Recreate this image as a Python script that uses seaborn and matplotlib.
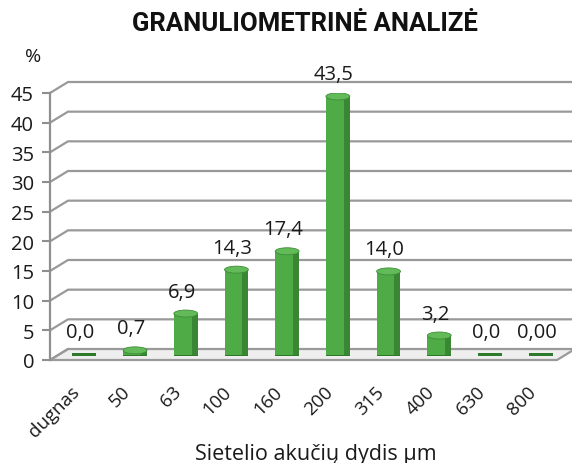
import matplotlib
matplotlib.use("Agg")
import matplotlib.pyplot as plt
import matplotlib.transforms as mtransforms
from matplotlib.patches import Polygon, Ellipse
from matplotlib.lines import Line2D
import seaborn as sns
import numpy as np

# ---- data ----
categories = ["dugnas", "50", "63", "100", "160", "200", "315", "400", "630", "800"]
values = [0.0, 0.7, 6.9, 14.3, 17.4, 43.5, 14.0, 3.2, 0.0, 0.0]
value_labels = ["0,0", "0,7", "6,9", "14,3", "17,4", "43,5", "14,0", "3,2", "0,0", "0,00"]
yticks = [0, 5, 10, 15, 20, 25, 30, 35, 40, 45]
title = "GRANULIOMETRINĖ ANALIZĖ"
xlabel = "Sietelio akučių dydis µm"
ylabel = "%"

sns.set_theme(style="white")
plt.rcParams["font.family"] = ["Open Sans", "DejaVu Sans"]

W, H = 572, 464
DPI = 100
fig = plt.figure(figsize=(W / DPI, H / DPI), dpi=DPI)

axL, axR, axB, axT = 50, 557, 361, 94
ax = fig.add_axes([axL / W, (H - axB) / H, (axR - axL) / W, (axB - axT) / H])
ax.set_xlim(-0.5, 9.5)
ax.set_ylim(0, 45)
ax.patch.set_alpha(0)
for s in ["top", "right", "bottom"]:
    ax.spines[s].set_visible(False)
ax.spines["left"].set_color("#8f8f8f")
ax.spines["left"].set_linewidth(1.6)

grid_c = "#999999"
DX, DY = 18, 11
ident = mtransforms.IdentityTransform()

tr = ax.transData
x0, x1 = -0.5, 9.5
fl = tr.transform([(x0, 0), (x1, 0)])
floor = Polygon([fl[0], fl[1], fl[1] + [DX, DY], fl[0] + [DX, DY]], closed=True,
                transform=ident, facecolor="#eeeeee",
                edgecolor="#9a9a9a", linewidth=1.6, zorder=0.5, clip_on=False)
ax.add_patch(floor)

for v in yticks:
    pf = tr.transform((x0, v))
    pe = tr.transform((x1, v))
    if v == 0:
        xs = [pf[0], pf[0] + DX]
        ys = [pf[1], pf[1] + DY]
    else:
        xs = [pf[0], pf[0] + DX, pe[0] + DX + 40]
        ys = [pf[1], pf[1] + DY, pe[1] + DY]
    ln = Line2D(xs, ys, transform=ident, color=grid_c, linewidth=1.6, zorder=0.6, clip_on=False)
    ax.add_line(ln)

bar_off = mtransforms.offset_copy(ax.transData, fig=fig, x=DX / 2, y=DY / 2, units="dots")
xpos = np.arange(len(categories))
px_per_unit = (tr.transform((0, 45))[1] - tr.transform((0, 0))[1]) / 45.0
cap_h = 7.0 / px_per_unit
slab_h = 3.0 / px_per_unit

base = ax.bar(xpos, [slab_h] * len(values), bottom=-slab_h / 2, width=0.47,
              color="#2f7a2a", linewidth=0, zorder=2)
for p in base:
    p.set_transform(bar_off)

n_before = len(ax.patches)
sns.barplot(x=categories, y=values, color="#4fab46", saturation=1, width=0.47, ax=ax, zorder=3,
            linewidth=0)
for p in ax.patches[n_before:]:
    p.set_transform(bar_off)

side = ax.bar(xpos + 0.175, values, width=0.12, color="#3b8634", linewidth=0, zorder=4)
for p in side:
    p.set_transform(bar_off)

for i, v in enumerate(values):
    if v > 0:
        e = Ellipse((i, v), width=0.47, height=cap_h, transform=bar_off,
                    facecolor="#62bb58", edgecolor="#3f8d37", linewidth=0.6, zorder=5)
        ax.add_patch(e)

for i, (v, lab) in enumerate(zip(values, value_labels)):
    ax.annotate(lab, (i, v), xytext=(DX / 2 - 4, DY / 2 + 22), textcoords="offset pixels",
                ha="center", va="center", fontsize=14.5, color="#1a1a1a", zorder=6)

ax.set_yticks(yticks)
ax.set_yticklabels([str(t) for t in yticks], fontsize=14.5, color="#1a1a1a")
ax.tick_params(axis="y", which="both", length=5.5, width=1.5, color="#8f8f8f", pad=6, left=True)
ax.set_xticks(xpos)
ax.set_xticklabels(categories, rotation=45, ha="right", va="top", rotation_mode="anchor",
                   fontsize=13.5, color="#1a1a1a")
ax.tick_params(axis="x", length=0, pad=16)
for lab in ax.get_xticklabels():
    lab.set_transform(lab.get_transform() + mtransforms.ScaledTranslation(-5 / DPI, 0, fig.dpi_scale_trans))
ax.set_xlabel("")
ax.set_ylabel("")

fig.text(305 / W, 1 - 24 / H, title, ha="center", va="center", fontsize=18.5,
         fontweight="bold", family=["Roboto", "DejaVu Sans"], color="#111111")
fig.text(33 / W, 1 - 57 / H, ylabel, ha="center", va="center", fontsize=14, color="#1a1a1a")
fig.text(316 / W, 1 - 455 / H, xlabel, ha="center", va="center", fontsize=15.5, color="#1a1a1a")

fig.savefig("out.png", dpi=DPI, facecolor="white")
